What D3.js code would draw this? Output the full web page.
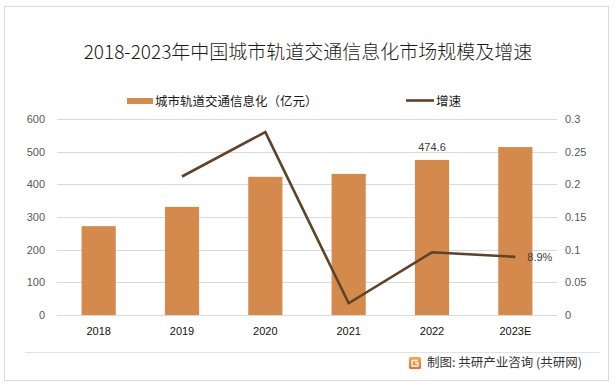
<!DOCTYPE html>
<html>
<head>
<meta charset="utf-8">
<script src="https://cdn.jsdelivr.net/npm/d3@7"></script>
<style>
  body { margin: 0; background: #fff; }
  text { font-family: "Noto Sans CJK SC", "Noto Sans", sans-serif; }
</style>
</head>
<body>
<svg id="chart"></svg>
<script>
// data
const years = ["2018", "2019", "2020", "2021", "2022", "2023E"];
const sizes = [272, 331, 423, 432, 474.6, 514];          // 亿元
const growth = [null, 0.212, 0.28, 0.018, 0.096, 0.089];
const leftTicks = [0, 100, 200, 300, 400, 500, 600];
const rightTicks = [0, 0.05, 0.1, 0.15, 0.2, 0.25, 0.3];
const barLabels = [null, null, null, null, "474.6", null];
const lineLabels = [null, null, null, null, null, "8.9%"];

const width = 615, height = 388;
const margin = { top: 119, right: 60, bottom: 73, left: 57 };
const barColor = "#D38A4C", lineColor = "#5E432A";

const svg = d3.select("#chart").attr("width", width).attr("height", height);

// frame
svg.append("rect")
    .attr("x", 4.5).attr("y", 6.5)
    .attr("width", 604).attr("height", 374)
    .attr("fill", "#fff").attr("stroke", "#d9d9d9");

svg.append("text")
    .attr("x", 308).attr("y", 59)
    .attr("text-anchor", "middle")
    .attr("font-size", 19)
    .attr("font-weight", 300)
    .attr("fill", "#1a1a1a")
    .text("2018-2023年中国城市轨道交通信息化市场规模及增速");

const x = d3.scaleBand()
    .domain(years)
    .range([margin.left, width - margin.right + 2])
    .paddingInner(0.59).paddingOuter(0.295);

const y = d3.scaleLinear().domain([0, 600]).range([height - margin.bottom, margin.top]);
const yR = d3.scaleLinear().domain([0, 0.3]).range([height - margin.bottom, margin.top]);

// gridlines
svg.append("g")
    .selectAll("line")
    .data(leftTicks)
    .join("line")
    .attr("x1", margin.left).attr("x2", width - margin.right + 2)
    .attr("y1", d => Math.round(y(d)) + 0.5).attr("y2", d => Math.round(y(d)) + 0.5)
    .attr("stroke", "#d9d9d9");

const leftAxis = svg.append("g")
    .attr("transform", `translate(${margin.left - 12},0)`)
    .call(d3.axisLeft(y).tickValues(leftTicks).tickSize(0).tickPadding(0));
leftAxis.select(".domain").remove();
leftAxis.selectAll("text").attr("font-size", 11).attr("fill", "#595959")
    .style("font-family", "'Liberation Sans', Arial, sans-serif");

const rightAxis = svg.append("g")
    .attr("transform", `translate(${width - margin.right + 10},0)`)
    .call(d3.axisRight(yR).tickValues(rightTicks).tickSize(0).tickPadding(0).tickFormat(d3.format("")));
rightAxis.select(".domain").remove();
rightAxis.selectAll("text").attr("font-size", 11).attr("fill", "#595959")
    .style("font-family", "'Liberation Sans', Arial, sans-serif");

const xAxis = svg.append("g")
    .attr("transform", `translate(0,${height - margin.bottom + 12})`)
    .call(d3.axisBottom(x).tickSize(0).tickPadding(0));
xAxis.select(".domain").remove();
xAxis.selectAll("text").attr("font-size", 11).attr("fill", "#111")
    .style("font-family", "'Liberation Sans', Arial, sans-serif");

// bars
const barData = years.map((yr, i) => ({ yr, v: sizes[i], label: barLabels[i] }));
svg.append("g")
    .selectAll("rect")
    .data(barData)
    .join("rect")
    .attr("x", d => x(d.yr))
    .attr("y", d => y(d.v))
    .attr("width", x.bandwidth())
    .attr("height", d => y(0) - y(d.v))
    .attr("fill", barColor);

svg.append("g")
    .selectAll("text")
    .data(barData.filter(d => d.label))
    .join("text")
    .attr("x", d => x(d.yr) + x.bandwidth() / 2)
    .attr("y", d => y(d.v) - 9)
    .attr("text-anchor", "middle")
    .attr("font-size", 11).attr("fill", "#404040")
    .style("font-family", "'Liberation Sans', Arial, sans-serif")
    .text(d => d.label);

// growth line
const pts = years.map((yr, i) => ({ yr, v: growth[i], label: lineLabels[i] }));
const line = d3.line()
    .defined(d => d.v != null)
    .x(d => x(d.yr) + x.bandwidth() / 2)
    .y(d => yR(d.v));

svg.append("path")
    .datum(pts)
    .attr("d", line)
    .attr("fill", "none")
    .attr("stroke", lineColor)
    .attr("stroke-width", 2.6)
    .attr("stroke-linejoin", "miter");

svg.append("g")
    .selectAll("text")
    .data(pts.filter(d => d.label))
    .join("text")
    .attr("x", d => x(d.yr) + x.bandwidth() / 2 + 12)
    .attr("y", d => yR(d.v) + 4)
    .attr("font-size", 11).attr("fill", "#404040")
    .style("font-family", "'Liberation Sans', Arial, sans-serif")
    .text(d => d.label);

// legend
const legend = svg.append("g");
legend.append("rect")
    .attr("x", 127).attr("y", 98).attr("width", 26).attr("height", 6)
    .attr("fill", barColor);
legend.append("text")
    .attr("x", 155).attr("y", 105.5)
    .attr("font-size", 12.5).attr("fill", "#1a1a1a")
    .text("城市轨道交通信息化（亿元）");
legend.append("line")
    .attr("x1", 406).attr("x2", 434).attr("y1", 100.5).attr("y2", 100.5)
    .attr("stroke", lineColor).attr("stroke-width", 2.6);
legend.append("text")
    .attr("x", 436).attr("y", 105.5)
    .attr("font-size", 12.5).attr("fill", "#1a1a1a")
    .text("增速");

// footer
svg.append("line")
    .attr("x1", 25).attr("x2", 600).attr("y1", 352.5).attr("y2", 352.5)
    .attr("stroke", "#e3e3e3");

const grad = svg.append("defs").append("linearGradient")
    .attr("id", "logo").attr("x1", 0).attr("y1", 0).attr("x2", 0).attr("y2", 1);
grad.append("stop").attr("offset", 0).attr("stop-color", "#f7a94a");
grad.append("stop").attr("offset", 1).attr("stop-color", "#ef6a3a");
svg.append("rect")
    .attr("x", 409).attr("y", 357).attr("width", 12).attr("height", 12).attr("rx", 1.5)
    .attr("fill", "url(#logo)");
svg.append("path")
    .attr("d", "M412,360.5 h6 M412,360.5 v5.5 h6 v-3 h-3")
    .attr("fill", "none").attr("stroke", "#fff").attr("stroke-width", 1.4);

svg.append("text")
    .attr("x", 427).attr("y", 367)
    .attr("font-size", 12.5).attr("fill", "#333")
    .text("制图: 共研产业咨询 (共研网)");
</script>
</body>
</html>
